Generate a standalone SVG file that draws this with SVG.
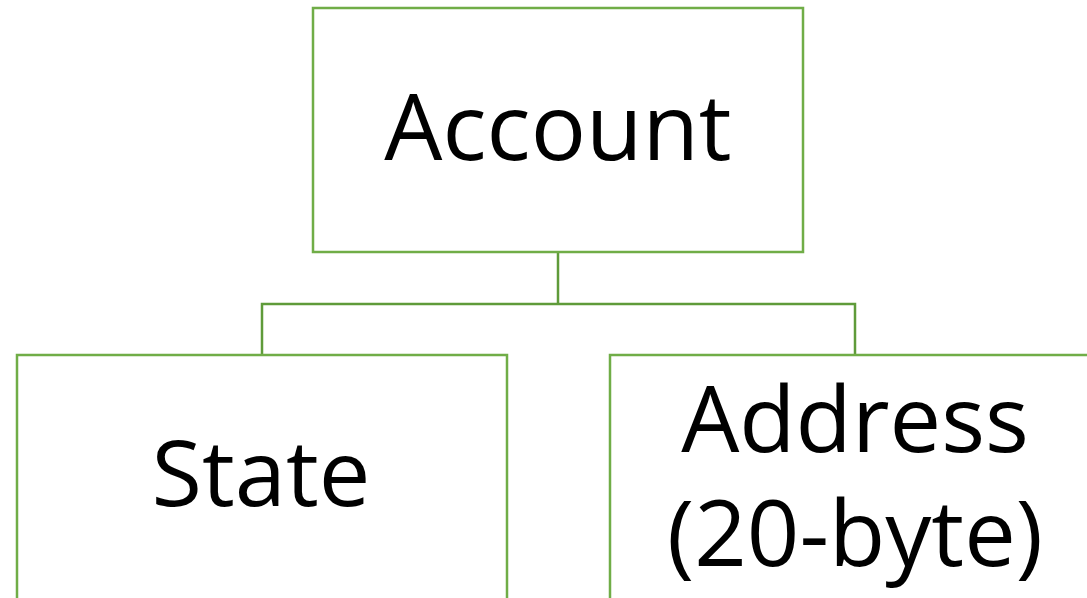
<svg xmlns="http://www.w3.org/2000/svg" width="1087" height="598" viewBox="0 0 1087 598">
<style>
.box{fill:#fff;stroke:#70AD47;stroke-width:2.5}
.conn{fill:none;stroke:#5F9B3A;stroke-width:2.5}
.lbl{font-family:"Open Sans","Noto Sans",sans-serif;font-size:92px;fill:#000;text-anchor:middle}
</style>
<rect width="1087" height="598" fill="#fff"/>
<g id="connectors">
<path class="conn" d="M558 252V304M262 355V304H855V355"/>
</g>
<g id="account">
<rect class="box" x="313" y="8" width="490" height="244"/>
<text class="lbl" x="558" y="160">Account</text>
</g>
<g id="state">
<rect class="box" x="17" y="355" width="490" height="260"/>
<text class="lbl" x="261" y="506">State</text>
</g>
<g id="address">
<rect class="box" x="610" y="355" width="500" height="260"/>
<text class="lbl" x="855" y="452">Address</text>
<text class="lbl" x="855" y="566">(20-byte)</text>
</g>
</svg>
